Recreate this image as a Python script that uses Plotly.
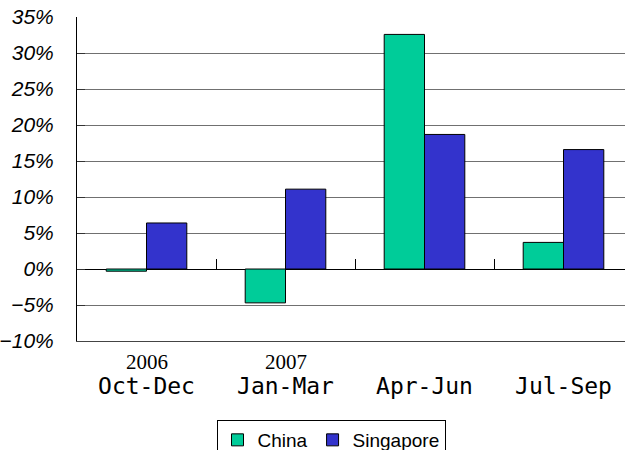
import plotly.graph_objects as go

categories = ["Oct-Dec", "Jan-Mar", "Apr-Jun", "Jul-Sep"]
years = ["2006", "2007", "", ""]
china = [-0.3, -4.7, 32.6, 3.7]
singapore = [6.4, 11.1, 18.7, 16.6]
y_ticks = [35, 30, 25, 20, 15, 10, 5, 0, -5, -10]

xpos = list(range(len(categories)))

fig = go.Figure()
fig.add_bar(x=xpos, y=china, name="China", marker=dict(color="#00CC99", line=dict(color="#000", width=1)))
fig.add_bar(x=xpos, y=singapore, name="Singapore", marker=dict(color="#3333CC", line=dict(color="#000", width=1)))

# invisible trace to carry the zero-line category ticks
fig.add_scatter(x=[0], y=[0], xaxis="x2", mode="markers", marker=dict(opacity=0), showlegend=False, hoverinfo="skip")

xr = [-0.5, -0.5 + (625 - 77) / 139]

for xi, yr in zip(xpos, years):
    if yr:
        fig.add_annotation(x=xi, y=-21 / 324, xref="x", yref="paper", text=yr, showarrow=False,
                           yanchor="middle", font=dict(family="Liberation Serif", size=21, color="#000"))

fig.update_layout(
    width=625, height=450,
    margin=dict(l=77, r=0, t=17, b=109, autoexpand=False),
    plot_bgcolor="white", paper_bgcolor="white",
    barmode="group", bargap=0.42, bargroupgap=0,
    font=dict(family="Liberation Sans", color="#000"),
    xaxis=dict(
        range=xr, tickvals=xpos, ticktext=categories,
        tickfont=dict(size=23, family="DejaVu Sans Mono"),
        showgrid=False, showline=True, linecolor="#444", linewidth=1, ticks="", zeroline=False,
        ticklabelstandoff=24, automargin=False,
    ),
    xaxis2=dict(
        range=xr, overlaying="x", anchor="free", position=(0 - (-10)) / 45,
        tickvals=[0.5, 1.5, 2.5], ticks="inside", ticklen=10, tickcolor="#000",
        showticklabels=False, showgrid=False, showline=False, zeroline=False, automargin=False,
    ),
    yaxis=dict(
        range=[-10, 35.02], tickvals=y_ticks, ticktext=[f"{v}%".replace("-", "\u2212") for v in y_ticks],
        tickfont=dict(size=21, style="italic"), ticklabeloverflow="allow",
        showgrid=True, gridcolor="#707070", gridwidth=1,
        zeroline=True, zerolinecolor="#000", zerolinewidth=1,
        showline=True, linecolor="#000", linewidth=1,
        ticks="inside", ticklen=8, tickcolor="#333", ticklabelstandoff=18, automargin=False,
    ),
    legend=dict(
        orientation="h", x=(331 - 77) / 548, xanchor="center", y=-(420 - 341) / 324, yanchor="top",
        bordercolor="#000", borderwidth=1, font=dict(size=19, family="Liberation Sans"),
        itemwidth=30, tracegroupgap=0,
    ),
)

fig.write_html("out.html", config={"displayModeBar": False},
               post_script="document.body.style.margin='0';")
